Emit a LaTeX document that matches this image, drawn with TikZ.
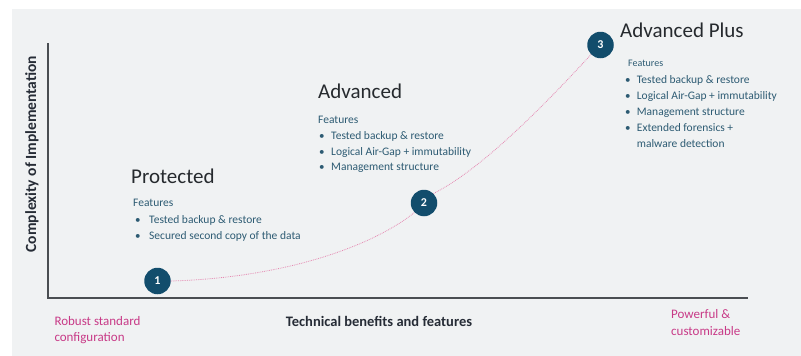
\documentclass[tikz,border=0pt]{standalone}
\usepackage{fontspec}
\setmainfont{Carlito}
\begin{document}
\begin{tikzpicture}[x=1pt,y=-1pt,
  axisline/.style={draw=axisgray,line width=1.6pt},
  stage/.style={circle,fill=stageblue,text=white,minimum size=26.5pt,inner sep=0pt,font=\fontsize{12}{12}\selectfont\bfseries},
  heading/.style={anchor=base west,inner sep=0pt,text=headgray,font=\fontsize{21}{21}\selectfont},
  feat/.style={anchor=base west,inner sep=0pt,text=feattext,font=\fontsize{11.5}{11.5}\selectfont},
  featsmall/.style={anchor=base west,inner sep=0pt,text=feattext,font=\fontsize{10}{10}\selectfont},
  bul/.style={anchor=base west,inner sep=0pt,text=feattext,font=\fontsize{11}{11}\selectfont},
  axislabel/.style={inner sep=0pt,text=axistext,font=\fontsize{14.5}{14.5}\selectfont\bfseries},
  endlabel/.style={anchor=base west,inner sep=0pt,text=endpink,font=\fontsize{13}{13}\selectfont},
  trend/.style={draw=curvepink,line width=0.8pt,densely dotted}]
\definecolor{panelgray}{HTML}{F0F2F3}
\definecolor{axisgray}{HTML}{4A4E52}
\definecolor{stageblue}{HTML}{124D6C}
\definecolor{headgray}{HTML}{262A2E}
\definecolor{feattext}{HTML}{2D5B73}
\definecolor{axistext}{HTML}{262C36}
\definecolor{endpink}{HTML}{C83A87}
\definecolor{curvepink}{HTML}{E58AB2}

\useasboundingbox (0,0) rectangle (801,356);
\fill[panelgray] (12,9) rectangle (801,356);

% axes
\coordinate (ytop) at (47.7,43);
\coordinate (origin) at (47.7,298);
\coordinate (xend) at (748,298);
\draw[axisline] (ytop) -- (origin) -- (xend);

% stage markers
\node[stage] (s1) at (157.5,281) {1};
\node[stage] (s2) at (424,203) {2};
\node[stage] (s3) at (600.5,45) {3};

% growth curve through the stages
\draw[trend] (s1.east) .. controls (280,278) and (370,248) .. (s2.south west);
\draw[trend] (s2.north east) .. controls (480,170) and (540,110) .. (s3.south west);

% Protected
\node[heading] (h1) at (131,183) {Protected};
\node[feat] (f1) at (133,206.7) {Features};
\node[bul] (b11) at (135,223) {•};
\node[feat] (t11) at (149,223) {Tested backup \& restore};
\node[bul] (b12) at (135,239) {•};
\node[feat] (t12) at (149,239) {Secured second copy of the data};

% Advanced
\node[heading] (h2) at (318,98) {Advanced};
\node[feat] (f2) at (318,123.3) {Features};
\node[bul] (b21) at (319,139) {•};
\node[feat] (t21) at (331,139) {Tested backup \& restore};
\node[bul] (b22) at (319,155) {•};
\node[feat] (t22) at (331,155) {Logical Air-Gap + immutability};
\node[bul] (b23) at (319,170.7) {•};
\node[feat] (t23) at (331,170.7) {Management structure};

% Advanced Plus
\node[heading] (h3) at (620,37.5) {Advanced Plus};
\node[featsmall] (f3) at (628,66.7) {Features};
\node[bul] (b31) at (625,83.3) {•};
\node[feat] (t31) at (636.7,83.3) {Tested backup \& restore};
\node[bul] (b32) at (625,99.3) {•};
\node[feat] (t32) at (636.7,99.3) {Logical Air-Gap + immutability};
\node[bul] (b33) at (625,115) {•};
\node[feat] (t33) at (636.7,115) {Management structure};
\node[bul] (b34) at (625,131) {•};
\node[feat] (t34) at (636.7,131) {Extended forensics +};
\node[feat] (t35) at (636.7,147.3) {malware detection};

% axis titles
\node[axislabel,rotate=90,font=\fontsize{15.5}{15.5}\selectfont\bfseries] (ylab) at (32,154) {Complexity of Implementation};
\node[axislabel] (xlab) at (379,321) {Technical benefits and features};

% range ends
\node[endlabel] (lo1) at (54.3,325.7) {Robust standard};
\node[endlabel] (lo2) at (54.3,341.5) {configuration};
\node[endlabel] (hi1) at (671,318.7) {Powerful \&};
\node[endlabel] (hi2) at (671,335) {customizable};
\end{tikzpicture}
\end{document}
